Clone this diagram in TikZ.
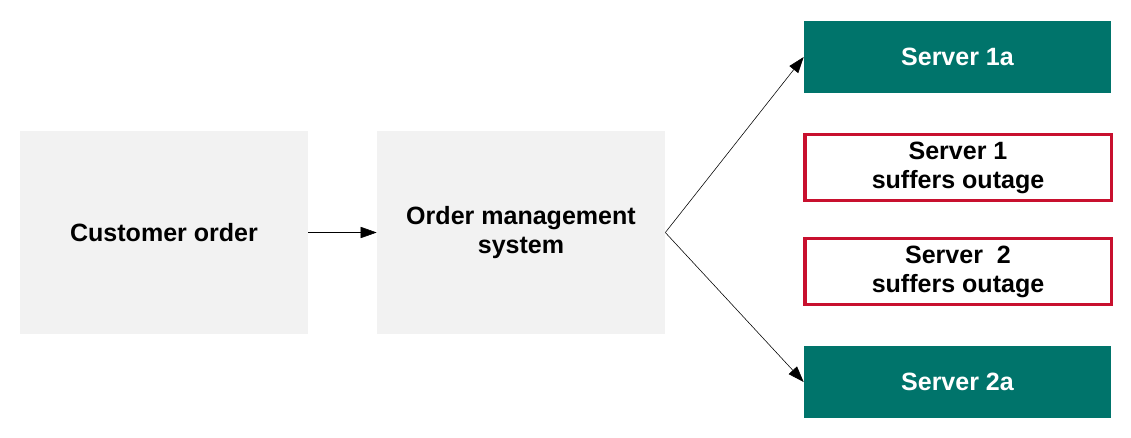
\documentclass[tikz,border=0pt]{standalone}
\usepackage{fontspec}
\setmainfont{Liberation Sans}
\usetikzlibrary{arrows.meta}

\definecolor{boxgray}{HTML}{F2F2F2}
\definecolor{serverteal}{HTML}{00746B}
\definecolor{outagered}{HTML}{C8102E}

\begin{document}
\begin{tikzpicture}[x=0.025cm,y=-0.025cm,>={Triangle[length=0.4cm,width=0.28cm]}]
        \tikzstyle{stage}=[fill=boxgray,minimum width=7.2cm,minimum height=5.075cm,align=center,font=\fontsize{17.8}{20.5}\selectfont\bfseries]
        \tikzstyle{server}=[fill=serverteal,text=white,minimum width=7.675cm,minimum height=1.8cm,font=\fontsize{17.8}{20.5}\selectfont\bfseries]
        \tikzstyle{outage}=[draw=outagered,line width=2.2pt,minimum width=7.65cm,minimum height=1.65cm,align=center,font=\fontsize{17.8}{20.5}\selectfont\bfseries]

        \useasboundingbox (0,0) rectangle (1131,437);

        \node[stage](order) at (164,232.5){Customer order};
        \node[stage](oms) at (521,232.5){Order management\\system};

        \node[server](s1a) at (957.5,57){Server 1a};
        \node[outage](out1) at (958,167.5){Server 1\\suffers outage};
        \node[outage](out2) at (958,271.5){Server \ 2\\suffers outage};
        \node[server](s2a) at (957.5,382){Server 2a};

        \draw[->] (order) -- (oms);
        \draw[->] (oms.east) -- (s1a.west);
        \draw[->] (oms.east) -- (s2a.west);

    \end{tikzpicture}
\end{document}
